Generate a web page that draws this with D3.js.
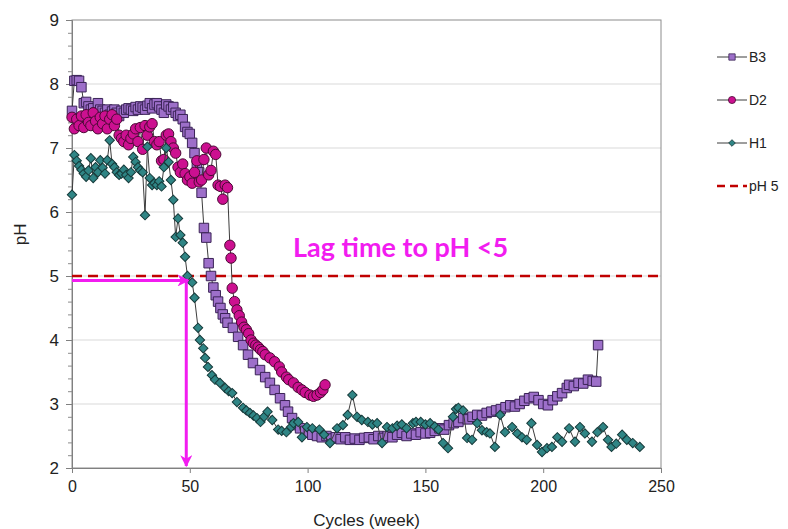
<!DOCTYPE html>
<html>
<head>
<meta charset="utf-8">
<script src="https://cdn.jsdelivr.net/npm/d3@7"></script>
<style>
  body { margin: 0; background: #fff; }
  svg { font-family: "Liberation Sans", Arial, sans-serif; }
</style>
</head>
<body>
<div id="ph_chart"></div>
<script>
// weeks, pH
const b3 = [[0,7.58],[1,8.05],[2,8.06],[3,8.05],[4,7.95],[5,7.7],[6,7.72],[7,7.65],[8,7.6],[9,7.62],[10,7.55],[11,7.7],[12,7.6],[13,7.58],[14,7.55],[15,7.6],[16,7.52],[17,7.57],[18,7.6],[19,7.55],[20,7.5],[21,7.58],[22,7.55],[23,7.6],[24,7.62],[25,7.6],[26,7.58],[27,7.64],[28,7.6],[29,7.65],[30,7.63],[31,7.6],[32,7.66],[33,7.7],[34,7.62],[35,7.68],[36,7.7],[37,7.65],[38,7.6],[39,7.55],[40,7.68],[41,7.65],[42,7.6],[43,7.64],[44,7.55],[45,7.5],[46,7.52],[47,7.45],[48,7.33],[49,7.25],[50,7.22],[51,7.08],[52,6.92],[53,6.75],[54,6.62],[55,6.3],[56,5.75],[57,5.6],[58,5.2],[59,5.0],[60,4.82],[61,4.7],[62,4.6],[63,4.5],[64,4.4],[65,4.34],[66,4.27],[68.3,4.19],[70.5,4.05],[72.6,3.92],[74.7,3.77],[76.8,3.64],[79.8,3.53],[82,3.42],[84,3.33],[86,3.22],[88.3,3.09],[90.4,2.98],[91.7,2.88],[93.4,2.78],[94.7,2.67],[96.8,2.62],[99,2.58],[100.5,2.55],[102,2.52],[104,2.5],[106,2.48],[108,2.5],[110,2.46],[112,2.48],[114,2.45],[116,2.48],[118,2.44],[120,2.46],[122,2.44],[124,2.47],[126,2.48],[128,2.45],[130,2.5],[132,2.47],[134,2.5],[136,2.48],[138,2.52],[140,2.55],[142,2.5],[144,2.54],[146,2.52],[148,2.56],[150,2.54],[152,2.55],[154,2.58],[156,2.62],[158,2.6],[160,2.67],[162,2.7],[164,2.72],[166,2.78],[168,2.76],[170,2.8],[172,2.83],[174,2.82],[176,2.86],[178,2.88],[180,2.9],[182,2.92],[184,2.95],[186,2.98],[188,2.96],[190,3.0],[192,3.05],[194,3.09],[196,3.11],[198,3.06],[200,3.0],[202,2.98],[204,3.06],[206,3.12],[208,3.17],[210,3.25],[211,3.3],[213,3.28],[215,3.33],[217,3.32],[219,3.38],[221,3.36],[222.5,3.35],[223.3,3.92]];

const d2 = [[0,7.48],[1,7.3],[2,7.45],[3,7.35],[4,7.5],[5,7.32],[6,7.52],[7,7.4],[8,7.35],[9,7.55],[10,7.42],[11,7.3],[12,7.48],[13,7.38],[14,7.5],[15,7.3],[16,7.45],[17,7.52],[18,7.35],[19,7.45],[20,7.2],[21,7.15],[22,7.1],[23,7.2],[24,7.05],[25,7.15],[26,7.22],[27,7.3],[28,7.1],[29,7.32],[30,6.98],[31,7.35],[32,7.2],[33,7.33],[34,7.38],[35,7.1],[36,7.05],[37,7.1],[38,6.8],[39,6.82],[40,7.2],[41,7.22],[42,7.1],[43,7.0],[44,6.92],[45,6.7],[46,6.62],[47,6.75],[48,6.6],[49,6.5],[50,6.55],[51,6.45],[52,6.62],[53,6.8],[54,6.47],[55,6.5],[56,6.82],[57,7.0],[58,6.58],[59,6.65],[60,6.95],[61,6.9],[62,6.42],[63,6.4],[64,6.2],[65,6.42],[66,6.38],[67,5.48],[67.5,5.28],[68,4.81],[69,4.6],[70,4.47],[71,4.38],[72,4.28],[73,4.2],[74,4.16],[75,4.1],[76,4.0],[77,3.95],[78,3.92],[79,3.89],[80,3.85],[81,3.82],[82,3.77],[84,3.72],[86,3.66],[88,3.58],[89,3.5],[91,3.42],[92,3.38],[94,3.33],[96,3.26],[97.6,3.22],[99,3.18],[101,3.14],[102.5,3.12],[104,3.14],[105.5,3.18],[106.5,3.22],[107.4,3.3]];

const h1 = [[0,6.27],[1,6.89],[2,6.8],[3,6.72],[4,6.66],[5,6.6],[6,6.55],[7,6.65],[8,6.84],[9,6.53],[10,6.7],[11,6.62],[12,6.81],[13,6.69],[14,6.6],[15,6.81],[16,7.12],[17,6.75],[18,6.7],[19,6.62],[20,6.58],[21,6.6],[22,6.66],[23,6.58],[24,6.53],[25,6.62],[26,6.86],[27,6.78],[28,6.7],[29,6.65],[30,6.62],[31,5.95],[32,7.02],[33,6.53],[34,6.42],[35,6.45],[36,6.42],[37,6.48],[38,6.4],[39,6.7],[40,7.0],[41,6.78],[42,6.5],[43,6.19],[44,5.61],[45,5.9],[46,5.64],[47,5.52],[48,5.3],[49,5.0],[51,4.9],[52,4.66],[53.5,4.19],[54.3,4.0],[55.7,3.87],[56.5,3.72],[57.7,3.58],[59.4,3.45],[60.7,3.38],[62.8,3.33],[65,3.25],[66.5,3.2],[68,3.17],[70,3.03],[72.6,2.94],[74,2.9],[75.5,2.86],[77,2.82],[78.5,2.78],[80,2.72],[81.5,2.8],[83,2.88],[85,2.75],[87.5,2.6],[89,2.58],[91,2.56],[93,2.64],[94,2.7],[96,2.72],[97.6,2.48],[99.7,2.64],[102,2.62],[105,2.6],[107,2.52],[109.5,2.39],[112.5,2.62],[115,2.67],[117,2.83],[119,3.14],[121,2.8],[123,2.75],[125.6,2.72],[127.5,2.68],[129.5,2.7],[131.6,2.39],[133.7,2.64],[136,2.62],[138,2.66],[140,2.68],[142,2.62],[144.7,2.7],[146,2.72],[148,2.72],[150,2.68],[152,2.7],[154,2.65],[155.5,2.6],[157.5,2.39],[159.6,2.31],[161.7,2.8],[163,2.92],[164,2.94],[166,2.9],[167.7,2.47],[169.8,2.44],[172,2.7],[174,2.59],[176,2.56],[177.4,2.54],[179.5,2.33],[181.7,2.83],[183.8,2.56],[186.8,2.64],[189,2.54],[191,2.48],[193,2.44],[195,2.7],[197.4,2.36],[199.5,2.25],[201.6,2.31],[203.7,2.33],[206,2.48],[208,2.41],[211,2.62],[213.5,2.41],[215.6,2.64],[217.7,2.54],[220.7,2.41],[223,2.56],[225.4,2.64],[227.5,2.44],[229,2.33],[231,2.38],[233.5,2.52],[235.5,2.44],[238,2.39],[241,2.33]];

const xTicks = [0, 50, 100, 150, 200, 250];
const yTicks = [2, 3, 4, 5, 6, 7, 8, 9];
const threshold = 5;
const lagWeek = 48.5, lagPH = 4.93;
const legendNames = ["B3", "D2", "H1", "pH 5"];

let width = 788,
    height = 529,
    margin = ({ top: 20, right: 127, bottom: 61, left: 72 });

const svg = d3.select("#ph_chart")
  .append("svg")
  .attr("width", width)
  .attr("height", height);

let x = d3.scaleLinear()
  .domain([0, 250])
  .range([margin.left, width - margin.right]);

let y = d3.scaleLinear()
  .domain([2, 9])
  .range([height - margin.bottom, margin.top]);

// gridlines
svg.append("g")
  .selectAll("line")
  .data(yTicks.slice(1, -1))
  .join("line")
  .attr("x1", x(0)).attr("x2", x(250))
  .attr("y1", d => y(d)).attr("y2", d => y(d))
  .attr("stroke", "#d9d9d9")
  .attr("stroke-width", 1);

// frame
svg.append("rect")
  .attr("x", x(0)).attr("y", y(9))
  .attr("width", x(250) - x(0)).attr("height", y(2) - y(9))
  .attr("fill", "none")
  .attr("stroke", "#8c8c8c");

// axes
const yMinor = d3.range(20, 91, 2).map(v => v / 10);
svg.append("g")
  .attr("transform", `translate(${x(0)},0)`)
  .call(d3.axisLeft(y).tickValues(yMinor).tickSize(4).tickFormat(""))
  .call(g => g.select(".domain").remove())
  .selectAll("line").attr("stroke", "#8c8c8c");

const yAxis = svg.append("g")
  .attr("transform", `translate(${x(0)},0)`)
  .call(d3.axisLeft(y).tickValues(yTicks).tickSize(6).tickPadding(7).tickFormat(d3.format("d")));
yAxis.select(".domain").attr("stroke", "#808080");
yAxis.selectAll("line").attr("stroke", "#808080");
yAxis.selectAll("text").attr("font-size", 17).attr("fill", "#222")
  .attr("font-family", "Liberation Sans, Arial, sans-serif");

const xAxis = svg.append("g")
  .attr("transform", `translate(0,${y(2)})`)
  .call(d3.axisBottom(x).tickValues(xTicks).tickSize(5).tickPadding(8));
xAxis.select(".domain").attr("stroke", "#808080");
xAxis.selectAll("line").attr("stroke", "#808080");
xAxis.selectAll("text").attr("font-size", 16).attr("fill", "#222")
  .attr("font-family", "Liberation Sans, Arial, sans-serif");

svg.append("text")
  .attr("x", (x(0) + x(250)) / 2)
  .attr("y", 526)
  .attr("text-anchor", "middle")
  .attr("font-size", 17)
  .attr("fill", "#222")
  .text("Cycles (week)");

svg.append("text")
  .attr("transform", `translate(26,${y(5.65)}) rotate(-90)`)
  .attr("text-anchor", "middle")
  .attr("font-size", 17)
  .attr("fill", "#222")
  .text("pH");

// pH 5 threshold
svg.append("line")
  .attr("x1", x(0)).attr("x2", x(250))
  .attr("y1", y(threshold)).attr("y2", y(threshold))
  .attr("stroke", "#c00000")
  .attr("stroke-width", 2.5)
  .attr("stroke-dasharray", "10,6");

// series
const series = [
  { name: "B3", data: b3, fill: "#9d6fc9", stroke: "#3a2356", symbol: d3.symbolSquare, size: 90, rot: 0 },
  { name: "D2", data: d2, fill: "#cc1090", stroke: "#4a0a34", symbol: d3.symbolCircle, size: 85, rot: 0 },
  { name: "H1", data: h1, fill: "#2f8585", stroke: "#163a3a", symbol: d3.symbolSquare, size: 44, rot: 45 }
];

const line = d3.line()
  .x(d => x(d[0]))
  .y(d => y(d[1]));

series.forEach(s => {
  svg.append("path")
    .datum(s.data)
    .attr("fill", "none")
    .attr("stroke", "#3c3c3c")
    .attr("stroke-width", 1)
    .attr("d", line);

  svg.append("g")
    .selectAll("path")
    .data(s.data)
    .join("path")
    .attr("d", d3.symbol(s.symbol, s.size))
    .attr("transform", d => `translate(${x(d[0])},${y(d[1])}) rotate(${s.rot})`)
    .attr("fill", s.fill)
    .attr("stroke", s.stroke)
    .attr("stroke-width", 1);
});

// lag time arrows
const magenta = "#f21cf0";
svg.append("defs").append("marker")
  .attr("id", "arrow")
  .attr("viewBox", "0 0 10 10")
  .attr("refX", 9).attr("refY", 5)
  .attr("markerWidth", 4).attr("markerHeight", 4)
  .attr("orient", "auto")
  .append("path")
  .attr("d", "M0,0 L10,5 L0,10 L3,5 Z")
  .attr("fill", magenta);

svg.append("line")
  .attr("x1", x(0)).attr("y1", y(lagPH))
  .attr("x2", x(lagWeek) + 2).attr("y2", y(lagPH))
  .attr("stroke", magenta).attr("stroke-width", 3)
  .attr("marker-end", "url(#arrow)");

svg.append("line")
  .attr("x1", x(lagWeek)).attr("y1", y(lagPH))
  .attr("x2", x(lagWeek)).attr("y2", y(2) - 2)
  .attr("stroke", magenta).attr("stroke-width", 3)
  .attr("marker-end", "url(#arrow)");

svg.append("text")
  .attr("x", 293)
  .attr("y", 257)
  .attr("font-family", "Lato, 'Open Sans', sans-serif")
  .attr("font-weight", "bold")
  .attr("font-size", 27)
  .attr("fill", magenta)
  .text("Lag time to pH <5");

// legend
const legend = svg.append("g")
  .attr("transform", "translate(717,57)");

const legendItems = legend.selectAll("g")
  .data(legendNames)
  .join("g")
  .attr("transform", (d, i) => `translate(0,${i * 43})`);

legendItems.append("line")
  .attr("x1", 0).attr("x2", 30)
  .attr("stroke", (d, i) => i === 3 ? "#c00000" : "#3c3c3c")
  .attr("stroke-width", (d, i) => i === 3 ? 2.5 : 1)
  .attr("stroke-dasharray", (d, i) => i === 3 ? "8,5" : null);

legendItems.filter((d, i) => i < 3)
  .append("path")
  .attr("d", (d, i) => d3.symbol(series[i].symbol, i === 2 ? 22 : 40)())
  .attr("transform", (d, i) => `translate(15,0) rotate(${series[i].rot})`)
  .attr("fill", (d, i) => series[i].fill)
  .attr("stroke", (d, i) => series[i].stroke)
  .attr("stroke-width", 0.8);

legendItems.append("text")
  .attr("x", 32)
  .attr("y", 5)
  .attr("font-size", 14)
  .attr("fill", "#222")
  .text(d => d);
</script>
</body>
</html>
